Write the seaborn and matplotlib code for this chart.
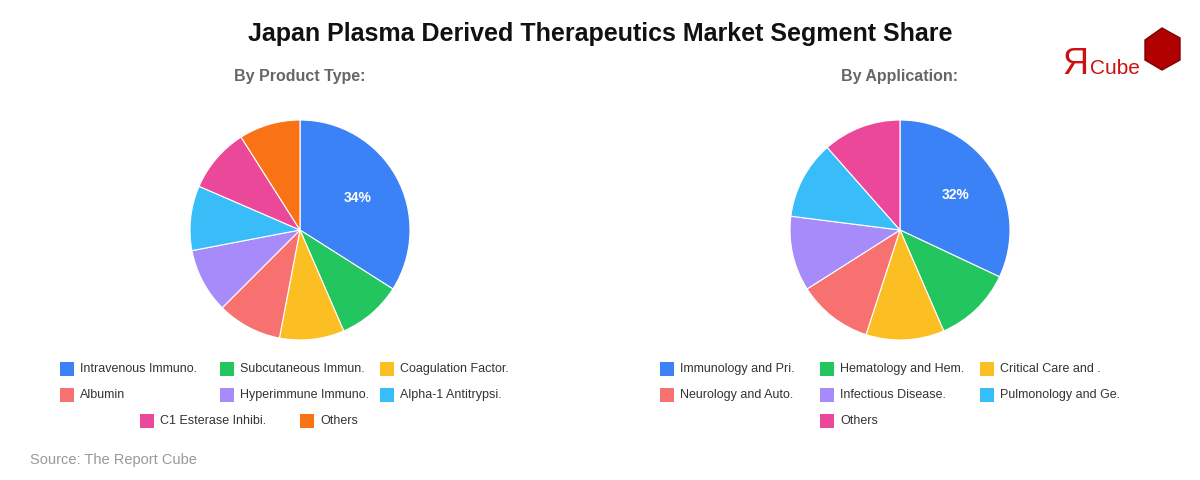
import matplotlib
matplotlib.use('Agg')
import matplotlib.pyplot as plt
import seaborn as sns
from matplotlib.patches import Rectangle, Polygon

sns.set_theme(style='white')
plt.rcParams['font.family'] = ['Liberation Sans', 'DejaVu Sans']

# данные
product_labels = ['Intravenous Immuno.', 'Subcutaneous Immun.', 'Coagulation Factor.',
                  'Albumin', 'Hyperimmune Immuno.', 'Alpha-1 Antitrypsi.',
                  'C1 Esterase Inhibi.', 'Others']
product_share = [34, 9.5, 9.5, 9.5, 9.5, 9.5, 9.5, 9]

app_labels = ['Immunology and Pri.', 'Hematology and Hem.', 'Critical Care and .',
              'Neurology and Auto.', 'Infectious Disease.', 'Pulmonology and Ge.', 'Others']
app_share = [32, 11.5, 11.5, 11, 11, 11.5, 11.5]

colors = ['#3b82f6', '#22c55e', '#fbbf24', '#f87171', '#a78bfa', '#38bdf8', '#ec4899', '#f97316']

fig = plt.figure(figsize=(12, 4.8), dpi=100)
fig.text(0.5, 1 - 34 / 480, 'Japan Plasma Derived Therapeutics Market Segment Share',
         ha='center', va='center', fontsize=18, fontweight='bold', color='#111111')


def draw_pie(cx, labels, values, subtitle, leg_x0, last_row_x):
    ax = fig.add_axes([(cx - 110) / 1200, (480 - 340) / 480, 220 / 1200, 220 / 480])
    ax.pie(values, colors=colors[:len(values)], startangle=90, counterclock=False,
           autopct=lambda p: f'{p:.0f}%' if p > 25 else '', pctdistance=0.6,
           wedgeprops={'edgecolor': 'white', 'linewidth': 0.8},
           textprops={'color': 'white', 'fontweight': 'bold', 'fontsize': 10})
    ax.set_xlim(-1, 1)
    ax.set_ylim(-1, 1)
    ax.set_aspect('equal')
    fig.text(cx / 1200, 1 - 77 / 480, subtitle, ha='center', va='center',
             fontsize=11.5, fontweight='bold', color='#666666')
    # легенда вручную: 3 колонки, последняя строка по центру
    for i, lab in enumerate(labels):
        row, col = divmod(i, 3)
        if row == 2:
            x = last_row_x[col]
        else:
            x = leg_x0 + col * 160
        y = 369 + row * 26
        fig.patches.append(Rectangle((x / 1200, 1 - (y + 7) / 480), 14 / 1200, 14 / 480,
                                     transform=fig.transFigure, facecolor=colors[i],
                                     edgecolor='none'))
        fig.text((x + 20) / 1200, 1 - y / 480, lab, ha='left', va='center',
                 fontsize=9, color='#333333')


draw_pie(300, product_labels, product_share, 'By Product Type:', 60, [140, 300])
draw_pie(900, app_labels, app_share, 'By Application:', 660, [820])

fig.text(30 / 1200, 1 - 460 / 480, 'Source: The Report Cube', ha='left', va='center',
         fontsize=10.5, color='#999999')

# логотип
fig.text(1062 / 1200, 1 - 64 / 480, 'Я', ha='left', va='center', fontsize=26, color='#cc1111')
fig.text(1090 / 1200, 1 - 68 / 480, 'Cube', ha='left', va='center', fontsize=15, color='#cc1111')
cube = [(1145, 40), (1162, 28), (1180, 38), (1180, 60), (1162, 70), (1145, 60)]
fig.patches.append(Polygon([(x / 1200, 1 - y / 480) for x, y in cube], closed=True,
                           transform=fig.transFigure, facecolor='#b00000', edgecolor='#800000'))

plt.savefig('out.png', dpi=100)
